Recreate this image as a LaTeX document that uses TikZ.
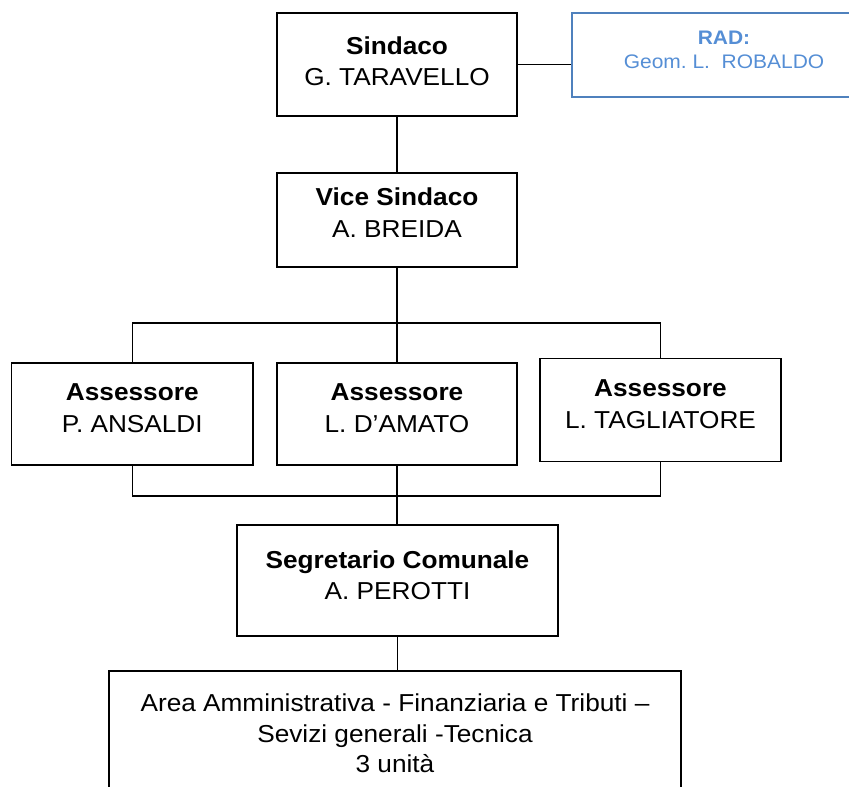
\documentclass[tikz,border=0pt]{standalone}
\usepackage{fontspec}
\setmainfont{Liberation Sans}[FakeStretch=1.07]
\definecolor{radline}{HTML}{4F81BD}
\definecolor{radtext}{HTML}{558ED5}
\begin{document}
\frenchspacing
\begin{tikzpicture}[x=1pt, y=1pt,
  box/.style={draw, line width=1.6pt, align=center, inner sep=0pt,
    font=\fontsize{24.5}{31.5}\selectfont},
  radbox/.style={draw=radline, line width=1.5pt, align=center, inner sep=0pt,
    text=radtext, font=\fontsize{19.6}{24}\selectfont},
  link/.style={line width=1.4pt}]
\useasboundingbox (0,0) rectangle (849,-787);

\node[box, minimum width=240, minimum height=103] (sindaco) at (397,-64.5)
  {\textbf{Sindaco}\\G. TARAVELLO\\[-25pt]};
\node[radbox, minimum width=304, minimum height=84] (rad) at (724,-55)
  {\textbf{RAD:}\\Geom. L.~~ROBALDO\\[-13pt]};
\node[box, minimum width=240, minimum height=94] (vice) at (397,-220)
  {\textbf{Vice Sindaco}\\A. BREIDA\\[-17pt]};

\node[box, minimum width=241.5, minimum height=102] (ass1) at (132.3,-414)
  {\textbf{Assessore}\\P. ANSALDI\\[-20pt]};
\node[box, minimum width=240, minimum height=102] (ass2) at (397,-414)
  {\textbf{Assessore}\\L. D’AMATO\\[-20pt]};
\node[box, minimum width=240.5, minimum height=103] (ass3) at (660.5,-410)
  {\textbf{Assessore}\\L. TAGLIATORE\\[-20pt]};

\node[box, minimum width=321, minimum height=111] (segr) at (397.5,-580.5)
  {\textbf{Segretario Comunale}\\A. PEROTTI\\[-21pt]};
\node[box, minimum width=572, minimum height=125, font=\fontsize{24.5}{30.5}\selectfont]
  (area) at (395,-733.5)
  {Area Amministrativa - Finanziaria e Tributi –\\Sevizi generali -Tecnica\\3 unità};

\coordinate (topbus) at (397,-323);
\coordinate (botbus) at (397,-496);

% collegamenti
\draw[link] (sindaco.east) -- (sindaco.east -| rad.west);
\draw[link] (sindaco.south) -- (vice.north);
\draw[link] (vice.south) -- (ass2.north);
\draw[link] (ass1.north) |- (topbus) -| (ass3.north);
\draw[link] (ass1.south) |- (botbus) -| (ass3.south);
\draw[link] (ass2.south) -- (ass2.south |- segr.north);
\draw[link] (segr.south) -- (segr.south |- area.north);
\end{tikzpicture}
\end{document}
